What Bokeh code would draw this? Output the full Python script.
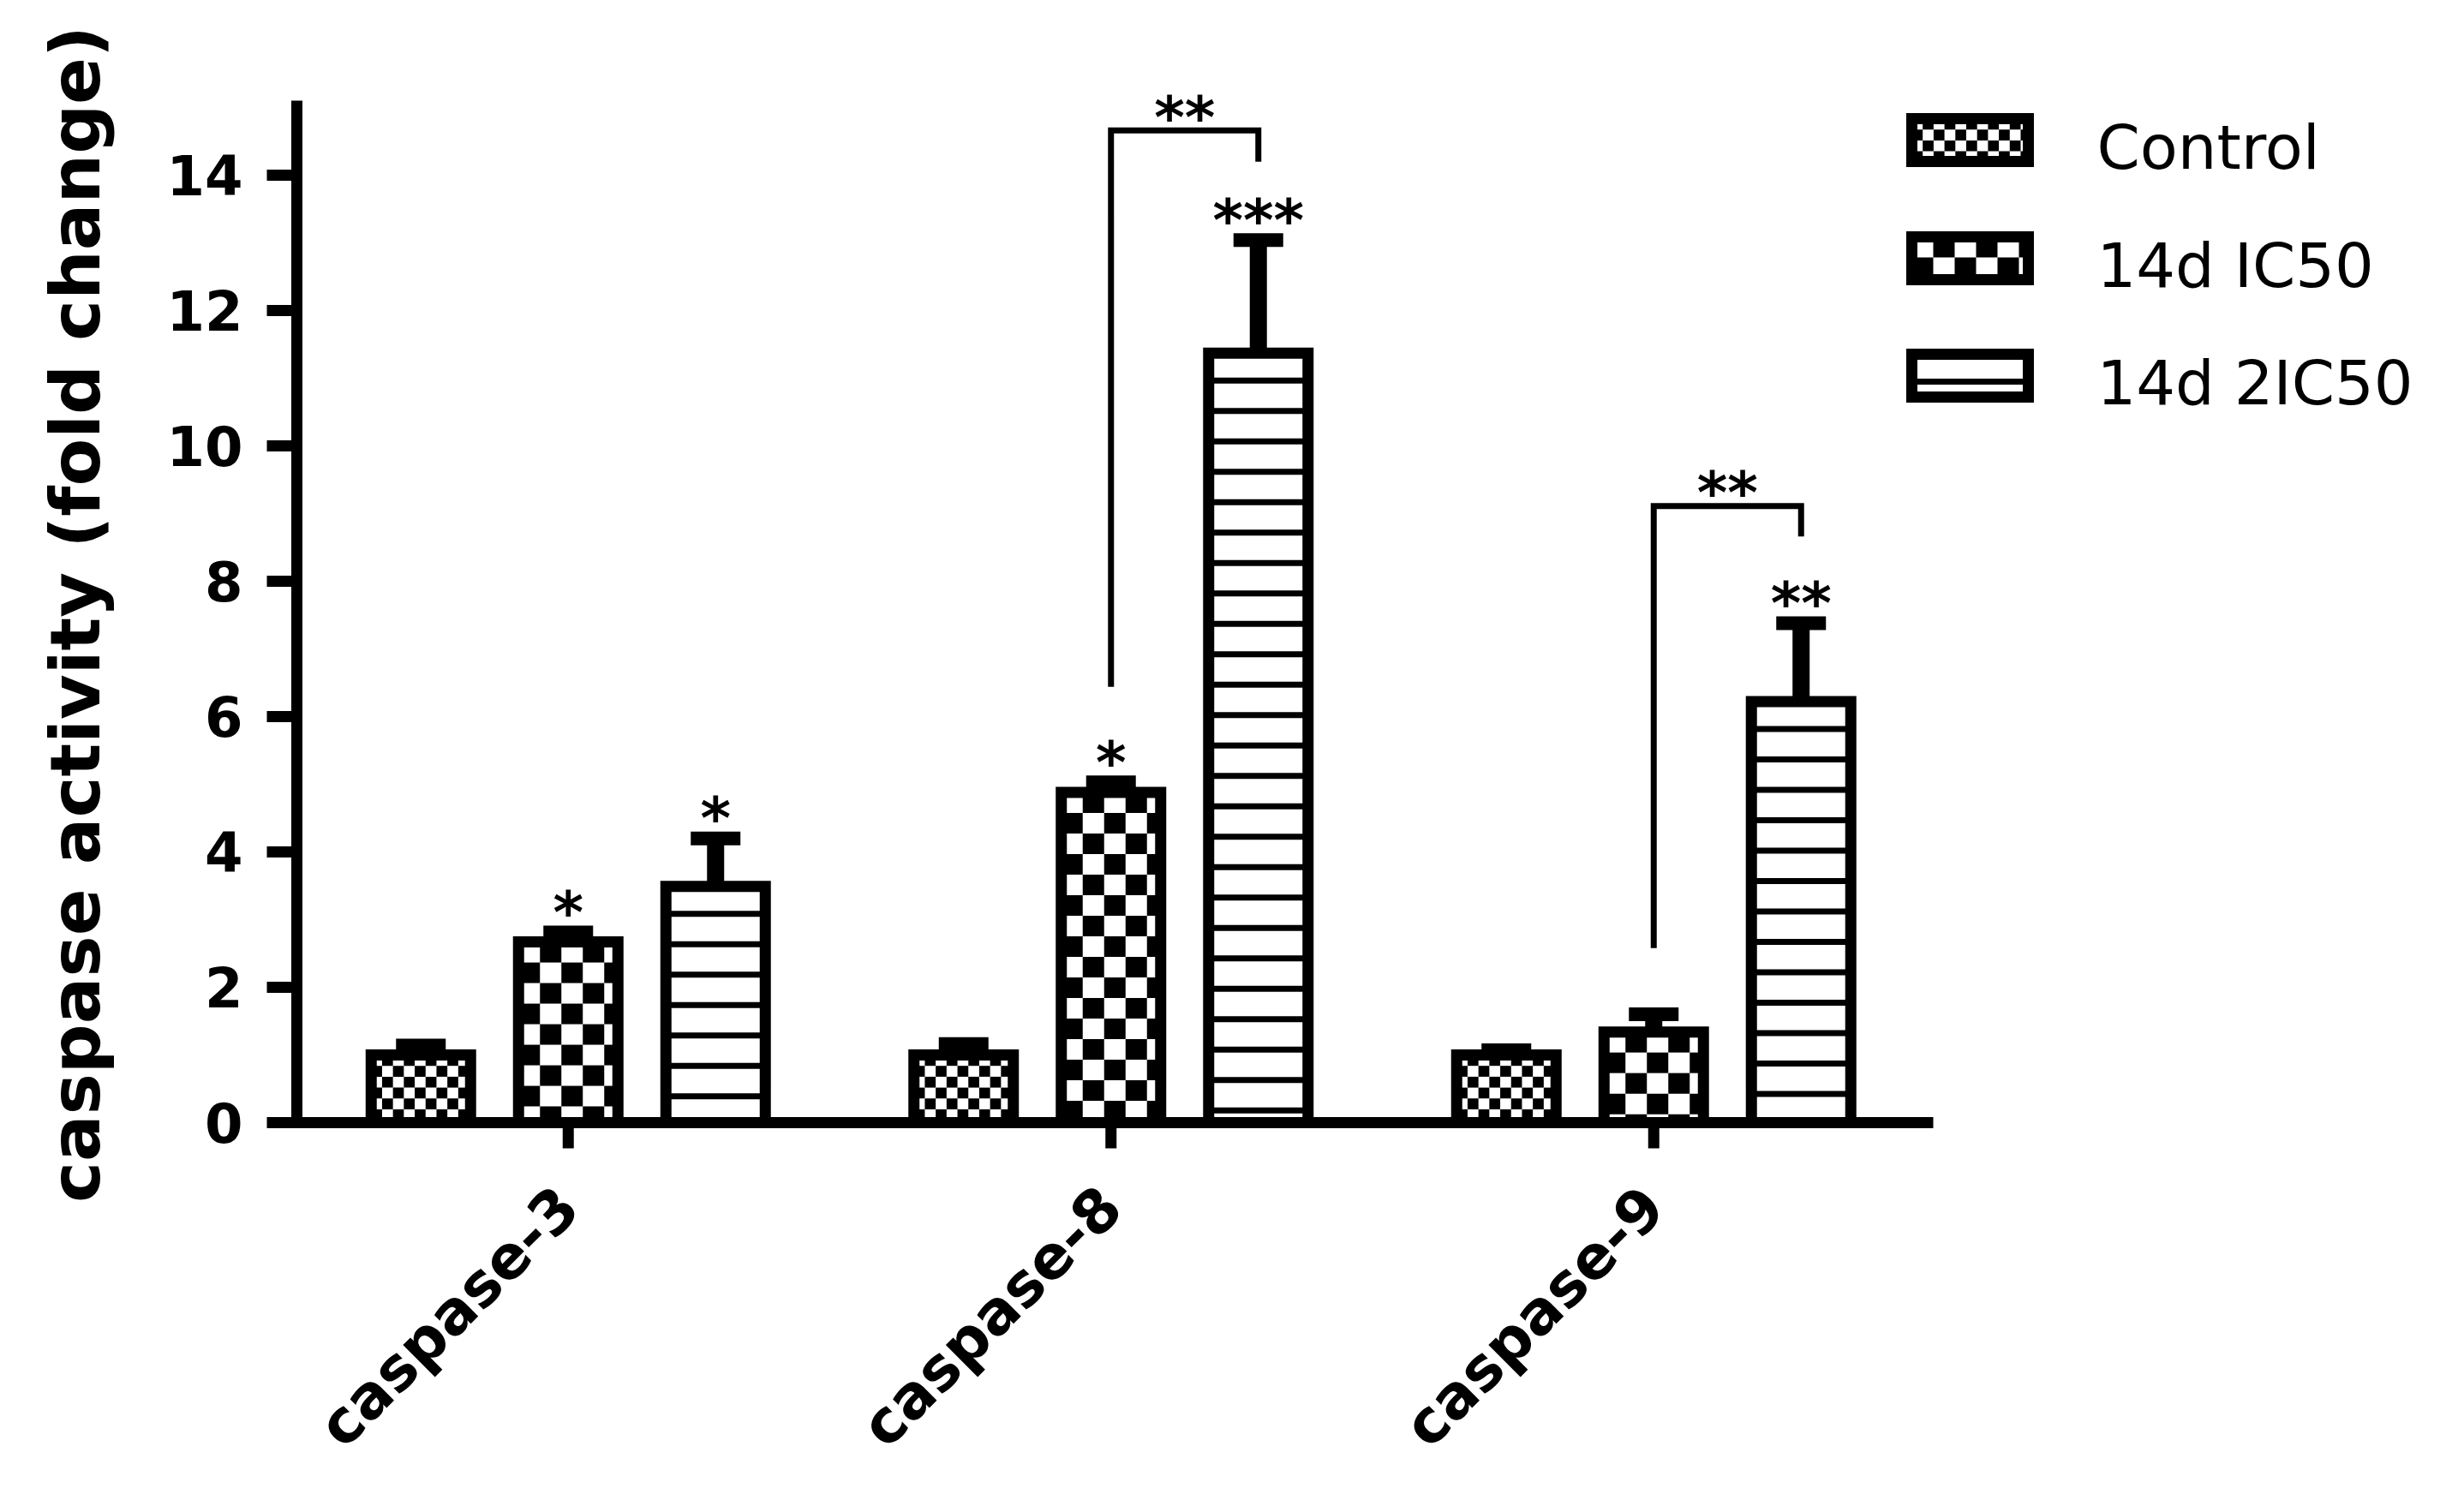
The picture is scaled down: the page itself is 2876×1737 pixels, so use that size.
import math
from bokeh.plotting import figure
from bokeh.models import Range1d, FixedTicker
from bokeh.core.properties import value
from bokeh.embed import file_html
from bokeh.resources import INLINE

# ---------------- data ----------------
categories = ["caspase-3", "caspase-8", "caspase-9"]
series_names = ["Control", "14d IC50", "14d 2IC50"]
control_mean = [1.00, 1.00, 1.00]
control_upper = [1.14, 1.16, 1.07]
ic50_mean = [2.67, 4.88, 1.34]
ic50_upper = [2.81, 5.03, 1.60]
ic50x2_mean = [3.49, 11.37, 6.22]
ic50x2_upper = [4.20, 13.04, 7.38]
control_marks = ["", "", ""]
ic50_marks = ["*", "*", ""]
ic50x2_marks = ["*", "***", "**"]
# brackets: 14d IC50 vs 14d 2IC50
bracket_category = ["caspase-8", "caspase-9"]
bracket_left_low = [6.44, 2.58]
bracket_top = [14.66, 9.11]
bracket_right_low = [14.20, 8.66]
bracket_marks = ["**", "**"]
y_ticks = [0, 2, 4, 6, 8, 10, 12, 14]
y_title = "caspase activity (fold change)"

# ---------------- layout (pixels on the page) ----------------
W, H = 2870, 1737
X0, Y0 = 346.0, 1310.0          # page pixel of x=0 / y=0
PX_X, PX_Y = 633.5, 79.0        # pixels per data unit
FRAME_L, FRAME_R, FRAME_T, FRAME_B = 326, 2866, 92, 1341
XS, XE = (FRAME_L - X0) / PX_X, (FRAME_R - X0) / PX_X
YS, YE = (Y0 - FRAME_B) / PX_Y, (Y0 - FRAME_T) / PX_Y


def dx(px):
    return px / PX_X


def dy(px):
    return px / PX_Y


def xp(px):
    return (px - X0) / PX_X


def yp(py):
    return (Y0 - py) / PX_Y


FONT = value("DejaVu Sans")
BAR_PITCH = dx(172)
BAR_W = dx(116)
OUT_W = 13
Y_AXIS_TOP = 15.1
X_AXIS_END = 3.015

p = figure(width=W, height=H, x_range=Range1d(XS, XE), y_range=Range1d(YS, YE),
           output_backend="svg", toolbar_location=None,
           min_border_left=FRAME_L, min_border_right=W - FRAME_R,
           min_border_top=FRAME_T, min_border_bottom=H - FRAME_B)
p.outline_line_color = None
p.xgrid.visible = False
p.ygrid.visible = False
p.background_fill_color = "white"
p.border_fill_color = "white"


def checker_cells(l, r, b, t, cw_px, ch_px, out):
    cw, ch = dx(cw_px), dy(ch_px)
    rows = int(math.ceil((t - b) / ch - 1e-9))
    cols = int(math.ceil((r - l) / cw - 1e-9))
    for ri in range(rows):
        top = t - ri * ch
        bot = max(t - (ri + 1) * ch, b)
        for ci in range(cols):
            if (ri + ci) % 2 == 1:
                out["left"].append(l + ci * cw)
                out["right"].append(min(l + (ci + 1) * cw, r))
                out["top"].append(top)
                out["bottom"].append(bot)


def stripe_cells(l, r, b, t, out, first_px=32, gap_px=35.5, thick_px=7):
    c = t - dy(first_px)
    while c + dy(thick_px / 2) > b:
        out["left"].append(l)
        out["right"].append(r)
        out["top"].append(min(c + dy(thick_px / 2), t))
        out["bottom"].append(max(c - dy(thick_px / 2), b))
        c -= dy(gap_px)


def fill_pattern(kind, l, r, b, t, out):
    if kind == 0:
        checker_cells(l, r, b, t, 12.7, 12.7, out)
    elif kind == 1:
        checker_cells(l, r, b, t, 25, 24, out)
    else:
        stripe_cells(l, r, b, t, out)


means = [control_mean, ic50_mean, ic50x2_mean]
uppers = [control_upper, ic50_upper, ic50x2_upper]
marks = [control_marks, ic50_marks, ic50x2_marks]

bx, btop, bup, sx, sy, st = [], [], [], [], [], []
cells = {"left": [], "right": [], "top": [], "bottom": []}
for k in range(3):
    for i, cat in enumerate(categories):
        x = i + 0.5 + (k - 1) * BAR_PITCH
        bx.append(x)
        btop.append(means[k][i])
        bup.append(uppers[k][i])
        fill_pattern(k, x - BAR_W / 2, x + BAR_W / 2, 0, means[k][i], cells)
        if marks[k][i]:
            sx.append(x)
            sy.append(uppers[k][i] + dy(31))
            st.append(marks[k][i])

# bars: white body, pattern, outline
p.vbar(x=bx, top=btop, bottom=0, width=BAR_W, fill_color="white", line_color=None)
p.quad(left=cells["left"], right=cells["right"], top=cells["top"], bottom=cells["bottom"],
       fill_color="black", line_color=None)
p.vbar(x=bx, top=btop, bottom=0, width=BAR_W, fill_color=None, line_color="black",
       line_width=OUT_W, line_join="miter")

# error bars (upper only)
p.segment(x0=bx, y0=btop, x1=bx, y1=bup, line_color="black", line_width=20, line_cap="butt")
p.segment(x0=[v - dx(29) for v in bx], y0=bup, x1=[v + dx(29) for v in bx], y1=bup,
          line_color="black", line_width=16, line_cap="butt")

# brackets
bxs, bys, btx, bty = [], [], [], []
for j, cat in enumerate(bracket_category):
    i = categories.index(cat)
    xl = i + 0.5
    xr = i + 0.5 + BAR_PITCH
    bxs.append([xl, xl, xr, xr])
    bys.append([bracket_left_low[j], bracket_top[j], bracket_top[j], bracket_right_low[j]])
    btx.append((xl + xr) / 2)
    bty.append(bracket_top[j] + dy(23))
p.multi_line(xs=bxs, ys=bys, line_color="black", line_width=7, line_join="miter", line_cap="butt")

# significance marks
p.text(x=sx + btx, y=sy + bty, text=st + bracket_marks, text_font=FONT,
       text_font_size=value("68px"), text_font_style="bold", text_align="center",
       text_baseline="middle", text_color="black", y_offset=8)

# axis lines drawn in data space
p.segment(x0=[0, -dx(6.5)], y0=[-dy(6.5), 0], x1=[0, X_AXIS_END], y1=[Y_AXIS_TOP, 0],
          line_color="black", line_width=13, line_cap="butt")
# category ticks
tick_x = [i + 0.5 for i in range(len(categories))]
p.segment(x0=tick_x, y0=[0] * 3, x1=tick_x, y1=[-dy(30)] * 3, line_color="black",
          line_width=13, line_cap="butt")

# y axis (ticks & labels)
ya = p.yaxis[0]
ya.ticker = FixedTicker(ticks=y_ticks)
ya.axis_line_color = None
ya.major_tick_line_width = 13
ya.major_tick_line_color = "black"
ya.major_tick_in = 14
ya.major_tick_out = 15
ya.minor_tick_line_color = None
ya.major_label_standoff = 28
ya.major_label_text_font = "DejaVu Sans"
ya.major_label_text_font_style = "bold"
ya.major_label_text_font_size = "64px"
ya.major_label_text_color = "black"
ya.axis_label = y_title
ya.axis_label_text_font = "DejaVu Sans"
ya.axis_label_text_font_style = "bold"
ya.axis_label_text_font_size = "81px"
ya.axis_label_text_color = "black"
ya.axis_label_standoff = 56

# x axis (category labels only; line and ticks drawn above)
xa = p.xaxis[0]
xa.ticker = FixedTicker(ticks=tick_x)
xa.major_label_overrides = {t: c for t, c in zip(tick_x, categories)}
xa.axis_line_color = None
xa.major_tick_line_color = None
xa.major_tick_in = 0
xa.major_tick_out = 0
xa.minor_tick_line_color = None
xa.major_label_orientation = math.pi / 4
xa.major_label_standoff = 56
xa.major_label_text_font = "DejaVu Sans"
xa.major_label_text_font_style = "bold"
xa.major_label_text_font_size = "70px"
xa.major_label_text_color = "black"

# legend drawn by hand (patterns are custom)
leg_cx = xp(2299)
leg_cy = [yp(163), yp(301), yp(438)]
lw, lh = dx(136), dy(50)
lcells = {"left": [], "right": [], "top": [], "bottom": []}
for k in range(3):
    fill_pattern(k, leg_cx - lw / 2, leg_cx + lw / 2, leg_cy[k] - lh / 2, leg_cy[k] + lh / 2, lcells)
p.rect(x=[leg_cx] * 3, y=leg_cy, width=lw, height=lh, fill_color="white", line_color=None)
p.quad(left=lcells["left"], right=lcells["right"], top=lcells["top"], bottom=lcells["bottom"],
       fill_color="black", line_color=None)
p.rect(x=[leg_cx] * 3, y=leg_cy, width=lw, height=lh, fill_color=None, line_color="black",
       line_width=OUT_W, line_join="miter")
p.text(x=[xp(2447)] * 3, y=leg_cy, text=series_names, text_font=FONT,
       text_font_size=value("72px"), text_align="left", text_baseline="middle",
       text_color="black", y_offset=8)

open("out.html", "w").write(file_html(p, INLINE))
